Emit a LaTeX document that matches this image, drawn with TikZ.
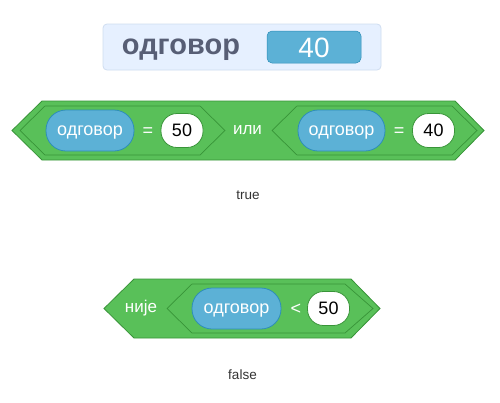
\documentclass[tikz,border=0pt]{standalone}
\usepackage{fontspec}
\setmainfont{Liberation Sans}
\definecolor{opfill}{HTML}{59C059}
\definecolor{opline}{HTML}{389438}
\definecolor{repfill}{HTML}{5CB1D6}
\definecolor{repline}{HTML}{2E8EB8}
\definecolor{monfill}{HTML}{E6F0FF}
\definecolor{monline}{HTML}{CFDDF0}
\definecolor{montext}{HTML}{575E75}
\definecolor{restext}{HTML}{333333}
\tikzset{
  hexout/.style={fill=opfill, draw=opline, line width=0.8pt, line join=miter},
  hexin/.style={fill=opfill, draw=opline, line width=0.7pt, line join=miter},
  reporter/.style={fill=repfill, draw=repline, line width=0.8pt, rounded corners=20pt,
    minimum height=41pt, inner sep=0pt, text=white, text height=9.4pt, text depth=0pt,
    font=\fontsize{18}{18}\selectfont},
  slot/.style={fill=white, draw=opline, line width=0.8pt, rounded corners=16pt,
    minimum width=42pt, minimum height=34pt, inner sep=0pt, text=black,
    text height=12.9pt, text depth=0pt, font=\fontsize{18}{18}\selectfont},
  optext/.style={text=white, inner sep=0pt, text height=8.8pt, text depth=0pt,
    font=\fontsize{17}{17}\selectfont},
  opsym/.style={text=white, inner sep=0pt, text height=12.2pt, text depth=0pt,
    font=\fontsize{18}{18}\selectfont},
  restxt/.style={text=restext, inner sep=0pt, font=\fontsize{13.5}{13.5}\selectfont},
}
\begin{document}
\begin{tikzpicture}[x=1pt,y=-1pt]
\useasboundingbox (0,0) rectangle (500,402);
\fill[white] (0,0) rectangle (500,402);
% monitor
\draw[fill=monfill, draw=monline, line width=0.8pt, rounded corners=4pt] (103,24) rectangle (381,70);
\node[text=montext, inner sep=0pt, text height=15pt, text depth=0pt,
  font=\fontsize{29}{29}\selectfont\bfseries] (monlabel) at (181,47) {одговор};
\node[fill=repfill, draw=repline, line width=0.5pt, rounded corners=5pt, minimum width=94pt,
  minimum height=32pt, inner sep=0pt, text=white, text height=20pt, text depth=0pt,
  font=\fontsize{28}{28}\selectfont] (monvalue) at (314,47) {40};
% block 1
\draw[hexout] (12,130.5) -- (42,101) -- (455,101) -- (484,130.5) -- (455,160) -- (42,160) -- cycle;
\draw[hexin] (20,130.5) -- (45,106) -- (200,106) -- (225,130.5) -- (200,155) -- (45,155) -- cycle;
\draw[hexin] (272,130.5) -- (297,106) -- (452,106) -- (477,130.5) -- (452,155) -- (297,155) -- cycle;
\node[reporter, minimum width=88pt] (rep1) at (90,130.5) {одговор};
\node[opsym] (eq1) at (148,130.5) {=};
\node[slot] (val1) at (182,130.5) {50};
\node[optext] (or) at (247.5,130.5) {или};
\node[reporter, minimum width=87pt] (rep2) at (341.5,130.5) {одговор};
\node[opsym] (eq2) at (399,130.5) {=};
\node[slot] (val2) at (433.5,130.5) {40};
\node[restxt] (res1) at (248,195.5) {true};
% block 2
\draw[hexout] (104,308.5) -- (134,279) -- (351,279) -- (380,308.5) -- (351,338) -- (134,338) -- cycle;
\draw[hexin] (167,308.5) -- (192,284) -- (345,284) -- (373,308.5) -- (345,333) -- (192,333) -- cycle;
\node[optext] (not) at (141,308.5) {није};
\node[reporter, minimum width=89pt] (rep3) at (236.5,308.5) {одговор};
\node[opsym] (lt) at (296,308.5) {<};
\node[slot] (val3) at (328.5,308.5) {50};
\node[restxt] (res2) at (242.5,374.5) {false};
\end{tikzpicture}
\end{document}
